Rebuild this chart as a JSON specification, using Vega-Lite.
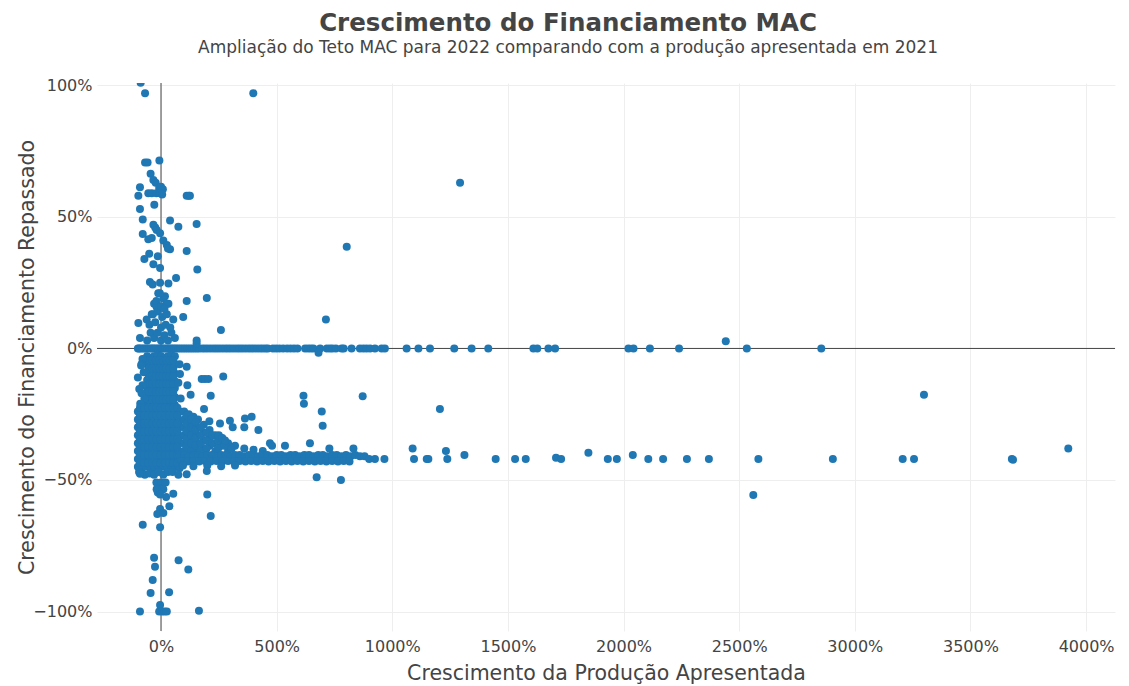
{
  "$schema": "https://vega.github.io/schema/vega-lite/v6.json",
  "width": 1018,
  "height": 548,
  "autosize": {"type": "none"},
  "padding": {"left": 97, "top": 83, "right": 14, "bottom": 55},
  "background": "white",
  "config": {"view": {"stroke": null}, "font": "DejaVu Sans"},
  "title": {
    "text": "Crescimento do Financiamento MAC",
    "subtitle": "Ampliação do Teto MAC para 2022 comparando com a produção apresentada em 2021",
    "anchor": "middle",
    "dx": -38,
    "offset": 20,
    "font": "DejaVu Sans",
    "fontSize": 24.5,
    "fontWeight": "bold",
    "color": "#444444",
    "subtitleFont": "DejaVu Sans",
    "subtitleFontSize": 17,
    "subtitleColor": "#444444",
    "subtitlePadding": 4
  },
  "layer": [
    {
      "data": {"values": [{"zero": 0}]},
      "mark": {"type": "rule", "color": "#444444", "strokeWidth": 1},
      "encoding": {"y": {"field": "zero", "type": "quantitative"}}
    },
    {
      "data": {"values": [{"zero": 0}]},
      "mark": {"type": "rule", "color": "#444444", "strokeWidth": 1},
      "encoding": {"x": {"field": "zero", "type": "quantitative"}}
    },
    {
      "data": {"values": [
{"prod":-100,"fin":0},{"prod":-95,"fin":0},{"prod":-88,"fin":0},{"prod":-80,"fin":0},{"prod":-72,"fin":0},{"prod":-65,"fin":0},{"prod":-58,"fin":0},{"prod":-50,"fin":0},{"prod":-42,"fin":0},{"prod":-35,"fin":0},{"prod":-28,"fin":0},{"prod":-20,"fin":0},{"prod":-12,"fin":0},{"prod":-5,"fin":0},{"prod":0,"fin":0},{"prod":5,"fin":0},{"prod":12,"fin":0},{"prod":20,"fin":0},{"prod":28,"fin":0},{"prod":35,"fin":0},{"prod":42,"fin":0},{"prod":50,"fin":0},{"prod":58,"fin":0},{"prod":66,"fin":0},{"prod":75,"fin":0},{"prod":85,"fin":0},{"prod":95,"fin":0},{"prod":105,"fin":0},{"prod":115,"fin":0},{"prod":125,"fin":0},{"prod":135,"fin":0},{"prod":145,"fin":0},{"prod":155,"fin":0},{"prod":165,"fin":0},{"prod":178,"fin":0},{"prod":190,"fin":0},{"prod":202,"fin":0},{"prod":215,"fin":0},{"prod":228,"fin":0},{"prod":240,"fin":0},{"prod":252,"fin":0},{"prod":265,"fin":0},{"prod":278,"fin":0},{"prod":290,"fin":0},{"prod":302,"fin":0},{"prod":315,"fin":0},{"prod":328,"fin":0},{"prod":340,"fin":0},{"prod":352,"fin":0},{"prod":365,"fin":0},{"prod":378,"fin":0},{"prod":390,"fin":0},{"prod":402,"fin":0},{"prod":415,"fin":0},{"prod":428,"fin":0},{"prod":440,"fin":0},{"prod":452,"fin":0},{"prod":462,"fin":0},{"prod":484,"fin":0},{"prod":498,"fin":0},{"prod":512,"fin":0},{"prod":528,"fin":0},{"prod":545,"fin":0},{"prod":560,"fin":0},{"prod":575,"fin":0},{"prod":590,"fin":0},{"prod":623,"fin":0},{"prod":636,"fin":0},{"prod":648,"fin":0},{"prod":659,"fin":0},{"prod":688,"fin":0},{"prod":717,"fin":0},{"prod":730,"fin":0},{"prod":741,"fin":0},{"prod":756,"fin":0},{"prod":781,"fin":0},{"prod":790,"fin":0},{"prod":824,"fin":0},{"prod":860,"fin":0},{"prod":875,"fin":0},{"prod":889,"fin":0},{"prod":904,"fin":0},{"prod":925,"fin":0},{"prod":954,"fin":0},{"prod":968,"fin":0},{"prod":1062,"fin":0},{"prod":1113,"fin":0},{"prod":1163,"fin":0},{"prod":1268,"fin":0},{"prod":1343,"fin":0},{"prod":1415,"fin":0},{"prod":1610,"fin":0},{"prod":1627,"fin":0},{"prod":1675,"fin":0},{"prod":1704,"fin":0},{"prod":2021,"fin":0},{"prod":2043,"fin":0},{"prod":2114,"fin":0},{"prod":2240,"fin":0},{"prod":2533,"fin":0},{"prod":2855,"fin":0},
{"prod":-88,"fin":101},{"prod":-69,"fin":97},{"prod":399,"fin":97},{"prod":-7,"fin":71.4},{"prod":-69,"fin":70.7},{"prod":-58,"fin":70.7},{"prod":-45,"fin":66.4},{"prod":-33,"fin":64},{"prod":-23,"fin":63},{"prod":-91,"fin":61.3},{"prod":-8,"fin":61},{"prod":0,"fin":61.5},{"prod":8,"fin":60.5},{"prod":-98,"fin":58},{"prod":-55,"fin":59},{"prod":-40,"fin":59},{"prod":-20,"fin":59},{"prod":-5,"fin":59},{"prod":5,"fin":58.5},{"prod":111,"fin":58},{"prod":120,"fin":58},{"prod":125,"fin":58},{"prod":-29,"fin":54.6},{"prod":-91,"fin":53},{"prod":-79,"fin":49},{"prod":39,"fin":48.6},{"prod":75,"fin":46.3},{"prod":154,"fin":47.3},{"prod":-33,"fin":47},{"prod":-25,"fin":46},{"prod":-19,"fin":45},{"prod":-4,"fin":43.8},{"prod":-79,"fin":43.5},{"prod":-55,"fin":41.5},{"prod":-40,"fin":42},{"prod":10,"fin":41},{"prod":25,"fin":39.3},{"prod":39,"fin":37.7},{"prod":30,"fin":38},{"prod":111,"fin":37},{"prod":-51,"fin":36},{"prod":-72,"fin":34},{"prod":-14,"fin":35},{"prod":-33,"fin":32},{"prod":-4,"fin":30.6},{"prod":157,"fin":30},{"prod":-48,"fin":25.3},{"prod":-36,"fin":24.3},{"prod":-4,"fin":25},{"prod":32,"fin":24.7},{"prod":65,"fin":26.8},{"prod":-12,"fin":21},{"prod":17,"fin":19.8},{"prod":32,"fin":17},{"prod":111,"fin":18},{"prod":198,"fin":19.2},{"prod":-30,"fin":17},{"prod":-19,"fin":15.8},{"prod":10,"fin":19},{"prod":25,"fin":17},{"prod":96,"fin":12},{"prod":53,"fin":11},{"prod":-62,"fin":11},{"prod":-40,"fin":13},{"prod":-98,"fin":9.7},{"prod":259,"fin":7},{"prod":154,"fin":3},{"prod":-91,"fin":4},{"prod":1293,"fin":63},{"prod":803,"fin":38.7},{"prod":713,"fin":11},
{"prod":-60,"fin":3},{"prod":-45,"fin":6},{"prod":-30,"fin":4},{"prod":-15,"fin":6},{"prod":0,"fin":3},{"prod":15,"fin":5},{"prod":30,"fin":3},{"prod":45,"fin":6},{"prod":60,"fin":4},{"prod":-50,"fin":9},{"prod":-25,"fin":10},{"prod":0,"fin":8},{"prod":20,"fin":9},{"prod":40,"fin":8},{"prod":-35,"fin":13},{"prod":-15,"fin":14},{"prod":5,"fin":12},{"prod":25,"fin":13},{"prod":-20,"fin":18},{"prod":0,"fin":16},{"prod":15,"fin":15},{"prod":-5,"fin":21},
{"prod":-60,"fin":-3},{"prod":-45,"fin":-3.5},{"prod":-30,"fin":-3},{"prod":-15,"fin":-2.5},{"prod":0,"fin":-3},{"prod":15,"fin":-3.5},{"prod":30,"fin":-3},{"prod":45,"fin":-2.5},{"prod":60,"fin":-3},
{"prod":-60,"fin":-6},{"prod":-45,"fin":-6.5},{"prod":-30,"fin":-6},{"prod":-15,"fin":-6},{"prod":0,"fin":-6.5},{"prod":15,"fin":-6},{"prod":30,"fin":-6},{"prod":45,"fin":-6.5},{"prod":60,"fin":-6},
{"prod":-60,"fin":-9},{"prod":-45,"fin":-9},{"prod":-30,"fin":-9.5},{"prod":-15,"fin":-9},{"prod":0,"fin":-9},{"prod":15,"fin":-9.5},{"prod":30,"fin":-9},{"prod":45,"fin":-9},{"prod":60,"fin":-9.5},
{"prod":-60,"fin":-12},{"prod":-45,"fin":-12},{"prod":-30,"fin":-12.5},{"prod":-15,"fin":-12},{"prod":0,"fin":-12},{"prod":15,"fin":-12.5},{"prod":30,"fin":-12},{"prod":45,"fin":-12},{"prod":60,"fin":-12.5},
{"prod":-60,"fin":-15},{"prod":-45,"fin":-15.5},{"prod":-30,"fin":-15},{"prod":-15,"fin":-15},{"prod":0,"fin":-15.5},{"prod":15,"fin":-15},{"prod":30,"fin":-15},{"prod":45,"fin":-15.5},{"prod":60,"fin":-15},
{"prod":-60,"fin":-18},{"prod":-45,"fin":-18},{"prod":-30,"fin":-18.5},{"prod":-15,"fin":-18},{"prod":0,"fin":-18},{"prod":15,"fin":-18.5},{"prod":30,"fin":-18},{"prod":45,"fin":-18},{"prod":60,"fin":-18.5},
{"prod":-60,"fin":-21},{"prod":-45,"fin":-21},{"prod":-30,"fin":-21.5},{"prod":-15,"fin":-21},{"prod":0,"fin":-21},{"prod":15,"fin":-21.5},{"prod":30,"fin":-21},{"prod":45,"fin":-21},{"prod":60,"fin":-21.5},
{"prod":-52,"fin":-4.5},{"prod":-37,"fin":-4.5},{"prod":-22,"fin":-4.5},{"prod":-7,"fin":-4.5},{"prod":8,"fin":-4.5},{"prod":23,"fin":-4.5},{"prod":38,"fin":-4.5},{"prod":53,"fin":-4.5},
{"prod":-52,"fin":-7.5},{"prod":-37,"fin":-7.5},{"prod":-22,"fin":-7.5},{"prod":-7,"fin":-7.5},{"prod":8,"fin":-7.5},{"prod":23,"fin":-7.5},{"prod":38,"fin":-7.5},{"prod":53,"fin":-7.5},
{"prod":-52,"fin":-10.5},{"prod":-37,"fin":-10.5},{"prod":-22,"fin":-10.5},{"prod":-7,"fin":-10.5},{"prod":8,"fin":-10.5},{"prod":23,"fin":-10.5},{"prod":38,"fin":-10.5},{"prod":53,"fin":-10.5},
{"prod":-52,"fin":-13.5},{"prod":-37,"fin":-13.5},{"prod":-22,"fin":-13.5},{"prod":-7,"fin":-13.5},{"prod":8,"fin":-13.5},{"prod":23,"fin":-13.5},{"prod":38,"fin":-13.5},{"prod":53,"fin":-13.5},
{"prod":-52,"fin":-16.5},{"prod":-37,"fin":-16.5},{"prod":-22,"fin":-16.5},{"prod":-7,"fin":-16.5},{"prod":8,"fin":-16.5},{"prod":23,"fin":-16.5},{"prod":38,"fin":-16.5},{"prod":53,"fin":-16.5},
{"prod":-52,"fin":-19.5},{"prod":-37,"fin":-19.5},{"prod":-22,"fin":-19.5},{"prod":-7,"fin":-19.5},{"prod":8,"fin":-19.5},{"prod":23,"fin":-19.5},{"prod":38,"fin":-19.5},{"prod":53,"fin":-19.5},
{"prod":-80,"fin":-4},{"prod":-75,"fin":-9},{"prod":-80,"fin":-14},{"prod":-72,"fin":-19},{"prod":-90,"fin":-21},{"prod":80,"fin":-6},{"prod":75,"fin":-13},{"prod":85,"fin":-19},{"prod":-84,"fin":-5.9},{"prod":-100,"fin":-11},{"prod":-94,"fin":-15.4},{"prod":-84,"fin":-17},{"prod":-86,"fin":-6.5},
{"prod":-100,"fin":-24},{"prod":-82,"fin":-24},{"prod":-64,"fin":-24.5},{"prod":-46,"fin":-24},{"prod":-28,"fin":-24},{"prod":-10,"fin":-24.5},{"prod":8,"fin":-24},{"prod":26,"fin":-24},{"prod":44,"fin":-24.5},{"prod":62,"fin":-24},{"prod":80,"fin":-24},
{"prod":-100,"fin":-27},{"prod":-82,"fin":-27.5},{"prod":-64,"fin":-27},{"prod":-46,"fin":-27},{"prod":-28,"fin":-27.5},{"prod":-10,"fin":-27},{"prod":8,"fin":-27},{"prod":26,"fin":-27.5},{"prod":44,"fin":-27},{"prod":62,"fin":-27},{"prod":80,"fin":-27.5},
{"prod":-100,"fin":-30},{"prod":-82,"fin":-30},{"prod":-64,"fin":-30.5},{"prod":-46,"fin":-30},{"prod":-28,"fin":-30},{"prod":-10,"fin":-30.5},{"prod":8,"fin":-30},{"prod":26,"fin":-30},{"prod":44,"fin":-30.5},{"prod":62,"fin":-30},{"prod":80,"fin":-30},
{"prod":-100,"fin":-33},{"prod":-82,"fin":-33.5},{"prod":-64,"fin":-33},{"prod":-46,"fin":-33},{"prod":-28,"fin":-33.5},{"prod":-10,"fin":-33},{"prod":8,"fin":-33},{"prod":26,"fin":-33.5},{"prod":44,"fin":-33},{"prod":62,"fin":-33},{"prod":80,"fin":-33.5},
{"prod":-100,"fin":-36},{"prod":-82,"fin":-36},{"prod":-64,"fin":-36.5},{"prod":-46,"fin":-36},{"prod":-28,"fin":-36},{"prod":-10,"fin":-36.5},{"prod":8,"fin":-36},{"prod":26,"fin":-36},{"prod":44,"fin":-36.5},{"prod":62,"fin":-36},{"prod":80,"fin":-36},
{"prod":-100,"fin":-39},{"prod":-82,"fin":-39.5},{"prod":-64,"fin":-39},{"prod":-46,"fin":-39},{"prod":-28,"fin":-39.5},{"prod":-10,"fin":-39},{"prod":8,"fin":-39},{"prod":26,"fin":-39.5},{"prod":44,"fin":-39},{"prod":62,"fin":-39},{"prod":80,"fin":-39.5},
{"prod":-100,"fin":-42},{"prod":-82,"fin":-42},{"prod":-64,"fin":-42.5},{"prod":-46,"fin":-42},{"prod":-28,"fin":-42},{"prod":-10,"fin":-42.5},{"prod":8,"fin":-42},{"prod":26,"fin":-42},{"prod":44,"fin":-42.5},{"prod":62,"fin":-42},{"prod":80,"fin":-42},
{"prod":-100,"fin":-45},{"prod":-82,"fin":-45.5},{"prod":-64,"fin":-45},{"prod":-46,"fin":-45},{"prod":-28,"fin":-45.5},{"prod":-10,"fin":-45},{"prod":8,"fin":-45},{"prod":26,"fin":-45.5},{"prod":44,"fin":-45},{"prod":62,"fin":-45},{"prod":80,"fin":-45.5},
{"prod":-91,"fin":-22.5},{"prod":-73,"fin":-22.5},{"prod":-55,"fin":-22.5},{"prod":-37,"fin":-22.5},{"prod":-19,"fin":-22.5},{"prod":-1,"fin":-22.5},{"prod":17,"fin":-22.5},{"prod":35,"fin":-22.5},{"prod":53,"fin":-22.5},{"prod":71,"fin":-22.5},
{"prod":-91,"fin":-25.5},{"prod":-73,"fin":-25.5},{"prod":-55,"fin":-25.5},{"prod":-37,"fin":-25.5},{"prod":-19,"fin":-25.5},{"prod":-1,"fin":-25.5},{"prod":17,"fin":-25.5},{"prod":35,"fin":-25.5},{"prod":53,"fin":-25.5},{"prod":71,"fin":-25.5},
{"prod":-91,"fin":-28.5},{"prod":-73,"fin":-28.5},{"prod":-55,"fin":-28.5},{"prod":-37,"fin":-28.5},{"prod":-19,"fin":-28.5},{"prod":-1,"fin":-28.5},{"prod":17,"fin":-28.5},{"prod":35,"fin":-28.5},{"prod":53,"fin":-28.5},{"prod":71,"fin":-28.5},
{"prod":-91,"fin":-31.5},{"prod":-73,"fin":-31.5},{"prod":-55,"fin":-31.5},{"prod":-37,"fin":-31.5},{"prod":-19,"fin":-31.5},{"prod":-1,"fin":-31.5},{"prod":17,"fin":-31.5},{"prod":35,"fin":-31.5},{"prod":53,"fin":-31.5},{"prod":71,"fin":-31.5},
{"prod":-91,"fin":-34.5},{"prod":-73,"fin":-34.5},{"prod":-55,"fin":-34.5},{"prod":-37,"fin":-34.5},{"prod":-19,"fin":-34.5},{"prod":-1,"fin":-34.5},{"prod":17,"fin":-34.5},{"prod":35,"fin":-34.5},{"prod":53,"fin":-34.5},{"prod":71,"fin":-34.5},
{"prod":-91,"fin":-37.5},{"prod":-73,"fin":-37.5},{"prod":-55,"fin":-37.5},{"prod":-37,"fin":-37.5},{"prod":-19,"fin":-37.5},{"prod":-1,"fin":-37.5},{"prod":17,"fin":-37.5},{"prod":35,"fin":-37.5},{"prod":53,"fin":-37.5},{"prod":71,"fin":-37.5},
{"prod":-91,"fin":-40.5},{"prod":-73,"fin":-40.5},{"prod":-55,"fin":-40.5},{"prod":-37,"fin":-40.5},{"prod":-19,"fin":-40.5},{"prod":-1,"fin":-40.5},{"prod":17,"fin":-40.5},{"prod":35,"fin":-40.5},{"prod":53,"fin":-40.5},{"prod":71,"fin":-40.5},
{"prod":-91,"fin":-43.5},{"prod":-73,"fin":-43.5},{"prod":-55,"fin":-43.5},{"prod":-37,"fin":-43.5},{"prod":-19,"fin":-43.5},{"prod":-1,"fin":-43.5},{"prod":17,"fin":-43.5},{"prod":35,"fin":-43.5},{"prod":53,"fin":-43.5},{"prod":71,"fin":-43.5},
{"prod":-95,"fin":-47},{"prod":-70,"fin":-48},{"prod":-50,"fin":-47.5},{"prod":-30,"fin":-48},{"prod":-10,"fin":-47},{"prod":10,"fin":-48},{"prod":30,"fin":-47},{"prod":50,"fin":-47},{"prod":-20,"fin":-51},{"prod":0,"fin":-51},{"prod":20,"fin":-51},{"prod":-10,"fin":-53},{"prod":10,"fin":-53.5},{"prod":-91,"fin":-47.6},
{"prod":100,"fin":-24},{"prod":100,"fin":-27},{"prod":100,"fin":-30},{"prod":100,"fin":-33},{"prod":100,"fin":-36},{"prod":100,"fin":-39},
{"prod":120,"fin":-25},{"prod":120,"fin":-28},{"prod":120,"fin":-31},{"prod":120,"fin":-34},{"prod":120,"fin":-37},
{"prod":140,"fin":-26},{"prod":140,"fin":-29},{"prod":140,"fin":-32},{"prod":140,"fin":-35},{"prod":140,"fin":-38},
{"prod":160,"fin":-27},{"prod":160,"fin":-30},{"prod":160,"fin":-33},{"prod":160,"fin":-36},{"prod":160,"fin":-39},
{"prod":185,"fin":-29},{"prod":185,"fin":-32},{"prod":185,"fin":-35},{"prod":185,"fin":-38},
{"prod":210,"fin":-31},{"prod":210,"fin":-34},{"prod":210,"fin":-37},
{"prod":235,"fin":-33},{"prod":235,"fin":-36},{"prod":235,"fin":-39},
{"prod":260,"fin":-34},{"prod":260,"fin":-37},
{"prod":290,"fin":-36},{"prod":290,"fin":-39},
{"prod":320,"fin":-37},{"prod":360,"fin":-38},{"prod":400,"fin":-38.5},{"prod":440,"fin":-39},
{"prod":110,"fin":-25.5},{"prod":110,"fin":-28.5},{"prod":110,"fin":-31.5},{"prod":110,"fin":-34.5},{"prod":110,"fin":-37.5},
{"prod":130,"fin":-27},{"prod":130,"fin":-30},{"prod":130,"fin":-33},{"prod":130,"fin":-36},{"prod":130,"fin":-39},
{"prod":150,"fin":-28},{"prod":150,"fin":-31},{"prod":150,"fin":-34},{"prod":150,"fin":-37},
{"prod":172,"fin":-30},{"prod":172,"fin":-33},{"prod":172,"fin":-36},{"prod":172,"fin":-39},
{"prod":197,"fin":-32},{"prod":197,"fin":-35},{"prod":197,"fin":-38},
{"prod":222,"fin":-33},{"prod":222,"fin":-36},{"prod":247,"fin":-35},{"prod":247,"fin":-38},{"prod":275,"fin":-37},{"prod":305,"fin":-38},
{"prod":80,"fin":-40.5},{"prod":100,"fin":-40.5},{"prod":120,"fin":-41},{"prod":140,"fin":-40.5},{"prod":160,"fin":-40.5},{"prod":180,"fin":-41},{"prod":200,"fin":-40.5},{"prod":220,"fin":-40.5},{"prod":240,"fin":-41},{"prod":260,"fin":-40.5},{"prod":280,"fin":-40.5},{"prod":300,"fin":-41},{"prod":320,"fin":-40.5},{"prod":340,"fin":-40.5},{"prod":360,"fin":-41},{"prod":380,"fin":-40.5},{"prod":400,"fin":-40.5},{"prod":420,"fin":-41},{"prod":440,"fin":-40.5},{"prod":460,"fin":-40.5},{"prod":480,"fin":-41},{"prod":500,"fin":-40.5},{"prod":520,"fin":-40.5},{"prod":540,"fin":-41},{"prod":560,"fin":-40.5},{"prod":580,"fin":-40.5},{"prod":600,"fin":-41},{"prod":620,"fin":-40.5},{"prod":640,"fin":-40.5},{"prod":660,"fin":-41},{"prod":680,"fin":-40.5},{"prod":700,"fin":-40.5},{"prod":720,"fin":-41},{"prod":740,"fin":-40.5},{"prod":760,"fin":-40.5},{"prod":780,"fin":-41},{"prod":800,"fin":-40.5},{"prod":820,"fin":-41},{"prod":840,"fin":-40.5},{"prod":860,"fin":-41},
{"prod":90,"fin":-42.8},{"prod":115,"fin":-43},{"prod":140,"fin":-42.8},{"prod":165,"fin":-43},{"prod":190,"fin":-42.8},{"prod":215,"fin":-43},{"prod":240,"fin":-42.8},{"prod":265,"fin":-43},{"prod":290,"fin":-42.8},{"prod":315,"fin":-43},{"prod":340,"fin":-42.8},{"prod":365,"fin":-43},{"prod":390,"fin":-42.8},{"prod":415,"fin":-43},{"prod":440,"fin":-42.8},{"prod":465,"fin":-43},{"prod":490,"fin":-42.8},{"prod":515,"fin":-43},{"prod":540,"fin":-42.8},{"prod":565,"fin":-43},{"prod":590,"fin":-42.8},{"prod":615,"fin":-43},{"prod":640,"fin":-42.8},{"prod":665,"fin":-43},{"prod":690,"fin":-42.8},{"prod":715,"fin":-43},{"prod":740,"fin":-42.8},{"prod":765,"fin":-43},{"prod":790,"fin":-42.8},{"prod":815,"fin":-43},
{"prod":95,"fin":-44.5},{"prod":140,"fin":-44.8},{"prod":200,"fin":-44.5},{"prod":260,"fin":-44.8},{"prod":320,"fin":-44.5},
{"prod":111,"fin":-7},{"prod":82,"fin":-9.7},{"prod":114,"fin":-14},{"prod":128,"fin":-17.6},{"prod":176,"fin":-11.6},{"prod":190,"fin":-11.6},{"prod":205,"fin":-11.6},{"prod":269,"fin":-10.7},{"prod":215,"fin":-18},{"prod":186,"fin":-23},{"prod":209,"fin":-27.7},{"prod":255,"fin":-28.5},{"prod":298,"fin":-27.5},{"prod":310,"fin":-30},{"prod":363,"fin":-26.6},{"prod":392,"fin":-26},{"prod":360,"fin":-30},{"prod":421,"fin":-31},{"prod":250,"fin":-33},{"prod":265,"fin":-34},{"prod":277,"fin":-35},{"prod":471,"fin":-36},{"prod":480,"fin":-37},{"prod":536,"fin":-37},{"prod":644,"fin":-36},{"prod":616,"fin":-18},{"prod":618,"fin":-21},{"prod":695,"fin":-24},{"prod":699,"fin":-29.4},{"prod":872,"fin":-18.2},{"prod":1206,"fin":-23},{"prod":728,"fin":-38},{"prod":832,"fin":-38},{"prod":1088,"fin":-38},{"prod":1232,"fin":-39},{"prod":1238,"fin":-42},{"prod":1312,"fin":-40.5},{"prod":681,"fin":-1.6},{"prod":2442,"fin":2.7},{"prod":154,"fin":2},
{"prod":75,"fin":-48},{"prod":111,"fin":-47.8},{"prod":198,"fin":-46.6},{"prod":-14,"fin":-54.8},{"prod":22,"fin":-56.5},{"prod":53,"fin":-55.2},{"prod":200,"fin":-55.5},{"prod":-19,"fin":-53.5},{"prod":-4,"fin":-55.5},{"prod":215,"fin":-63.7},{"prod":36,"fin":-60},{"prod":-4,"fin":-61},{"prod":-16,"fin":-62.9},{"prod":10,"fin":-62.5},{"prod":-79,"fin":-67},{"prod":-4,"fin":-68},{"prod":-30,"fin":-79.6},{"prod":-26,"fin":-83},{"prod":76,"fin":-80.5},{"prod":118,"fin":-84},{"prod":-36,"fin":-88},{"prod":-45,"fin":-93},{"prod":35,"fin":-92.7},{"prod":-4,"fin":-97.5},{"prod":-91,"fin":-100},{"prod":-8,"fin":-100},{"prod":5,"fin":-100},{"prod":15,"fin":-100},{"prod":25,"fin":-100},{"prod":164,"fin":-99.7},{"prod":673,"fin":-49},{"prod":778,"fin":-50},{"prod":2561,"fin":-55.7},
{"prod":880,"fin":-41},{"prod":900,"fin":-42},{"prod":925,"fin":-42},{"prod":966,"fin":-42},{"prod":1094,"fin":-42},{"prod":1149,"fin":-42},{"prod":1156,"fin":-42},{"prod":1447,"fin":-42},{"prod":1531,"fin":-42},{"prod":1577,"fin":-42},{"prod":1708,"fin":-41.5},{"prod":1730,"fin":-42},{"prod":1848,"fin":-39.6},{"prod":1932,"fin":-42},{"prod":1971,"fin":-42},{"prod":2040,"fin":-40.5},{"prod":2107,"fin":-42},{"prod":2171,"fin":-42},{"prod":2274,"fin":-42},{"prod":2369,"fin":-42},{"prod":2583,"fin":-42},{"prod":2905,"fin":-42},{"prod":3207,"fin":-42},{"prod":3256,"fin":-42},{"prod":3679,"fin":-42},{"prod":3684,"fin":-42.3},{"prod":3923,"fin":-38},{"prod":3299,"fin":-17.6}
      ]},
      "mark": {"type": "circle", "size": 64, "color": "#1f77b4", "opacity": 1, "clip": true},
      "encoding": {
        "x": {
          "field": "prod",
          "type": "quantitative",
          "scale": {"domain": [-276.8, 4125], "nice": false, "zero": false},
          "axis": {
            "title": "Crescimento da Produção Apresentada",
            "values": [0, 500, 1000, 1500, 2000, 2500, 3000, 3500, 4000],
            "labelExpr": "datum.value + '%'",
            "grid": true,
            "gridColor": "#eeeeee",
            "gridWidth": 1,
            "domain": false,
            "ticks": false,
            "labelPadding": 7,
            "labelFont": "DejaVu Sans",
            "labelFontSize": 16,
            "labelColor": "#444444",
            "titleFont": "DejaVu Sans",
            "titleFontSize": 20.5,
            "titleFontWeight": "normal",
            "titleColor": "#444444",
            "titlePadding": 9
          }
        },
        "y": {
          "field": "fin",
          "type": "quantitative",
          "scale": {"domain": [-107.4, 100.9], "nice": false, "zero": false},
          "axis": {
            "title": "Crescimento do Financiamento Repassado",
            "values": [-100, -50, 0, 50, 100],
            "format": "d",
            "labelExpr": "datum.label + '%'",
            "grid": true,
            "gridColor": "#eeeeee",
            "gridWidth": 1,
            "domain": false,
            "ticks": false,
            "labelPadding": 5,
            "labelFont": "DejaVu Sans",
            "labelFontSize": 16,
            "labelColor": "#444444",
            "titleFont": "DejaVu Sans",
            "titleFontSize": 20.5,
            "titleFontWeight": "normal",
            "titleColor": "#444444",
            "titlePadding": -5
          }
        }
      }
    }
  ]
}
